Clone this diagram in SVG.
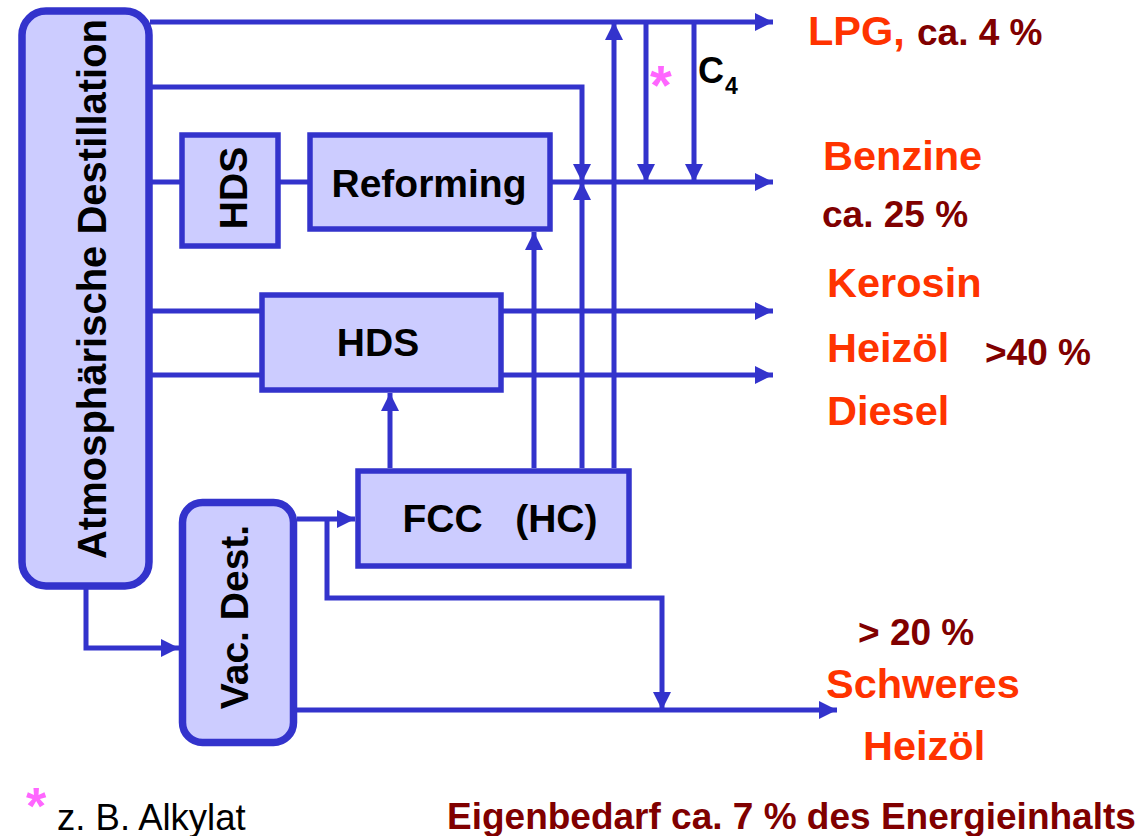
<svg xmlns="http://www.w3.org/2000/svg" width="1142" height="836" viewBox="0 0 1142 836">
<style>
.box{fill:#CCCCFF;stroke:#3333CC;stroke-width:5.5}
.rbox{fill:#CCCCFF;stroke:#3333CC;stroke-width:7.5}
.ln{fill:none;stroke:#3333CC;stroke-width:5}
.lbl{font-family:"Liberation Sans",Arial,sans-serif;font-weight:bold;font-size:39px;fill:#000}
.big{font-family:"Liberation Sans",Arial,sans-serif;font-weight:bold;font-size:41.5px;fill:#FF3300}
.pct{font-family:"Liberation Sans",Arial,sans-serif;font-weight:bold;font-size:37px;fill:#800000}
.star{font-family:"Liberation Sans",Arial,sans-serif;font-weight:bold;font-size:56px;fill:#FF66FF}
</style>
<defs>
<marker id="ah" markerUnits="userSpaceOnUse" markerWidth="18" markerHeight="18" refX="18" refY="9" orient="auto">
<path d="M0,0 L18,9 L0,18 z" fill="#3333CC"/>
</marker>
</defs>
<rect width="1142" height="836" fill="#fff"/>
<g id="connectors">
<path class="ln" d="M150,22 H773" marker-end="url(#ah)"/>
<path class="ln" d="M150,87 H582 V182" marker-end="url(#ah)"/>
<path class="ln" d="M150,182 H182"/>
<path class="ln" d="M278,182 H310"/>
<path class="ln" d="M550,182 H773" marker-end="url(#ah)"/>
<path class="ln" d="M150,311 H262"/>
<path class="ln" d="M501,311 H773" marker-end="url(#ah)"/>
<path class="ln" d="M150,375 H262"/>
<path class="ln" d="M501,375 H773" marker-end="url(#ah)"/>
<path class="ln" d="M390,468 V393" marker-end="url(#ah)"/>
<path class="ln" d="M534,468 V232" marker-end="url(#ah)"/>
<path class="ln" d="M582,468 V182" marker-end="url(#ah)"/>
<path class="ln" d="M614,468 V22" marker-end="url(#ah)"/>
<path class="ln" d="M646,22 V182" marker-end="url(#ah)"/>
<path class="ln" d="M694,22 V182" marker-end="url(#ah)"/>
<path class="ln" d="M86,586 V648 H179" marker-end="url(#ah)"/>
<path class="ln" d="M297,519 H355" marker-end="url(#ah)"/>
<path class="ln" d="M327,519 V598 H662 V710" marker-end="url(#ah)"/>
<path class="ln" d="M297,710 H837" marker-end="url(#ah)"/>
</g>
<g id="atm">
<rect class="rbox" x="22" y="11" width="127" height="575" rx="24"/>
<text class="lbl" transform="translate(106,289) rotate(-90)" text-anchor="middle" style="font-size:40px">Atmosphärische Destillation</text>
</g>
<g id="hds1">
<rect class="box" x="182" y="135" width="96" height="111"/>
<text class="lbl" transform="translate(247,188) rotate(-90)" text-anchor="middle">HDS</text>
</g>
<g id="reforming">
<rect class="box" x="310" y="135" width="240" height="94"/>
<text class="lbl" x="429" y="197" text-anchor="middle">Reforming</text>
</g>
<g id="hds2">
<rect class="box" x="262" y="295" width="239" height="95"/>
<text class="lbl" x="378" y="356" text-anchor="middle">HDS</text>
</g>
<g id="fcc">
<rect class="box" x="358" y="471" width="271" height="95"/>
<text class="lbl" x="500" y="532" text-anchor="middle" xml:space="preserve">FCC   (HC)</text>
</g>
<g id="vac">
<rect class="rbox" x="182.5" y="502.5" width="111" height="240" rx="20"/>
<text class="lbl" transform="translate(248,617) rotate(-90)" text-anchor="middle">Vac. Dest.</text>
</g>
<g id="labels">
<text class="star" x="650" y="104">*</text>
<text class="lbl" x="698" y="83" style="font-size:36px">C</text>
<text class="lbl" x="725" y="94" style="font-size:23px">4</text>
<text class="big" x="808" y="45">LPG,</text>
<text class="pct" x="917" y="45">ca. 4 %</text>
<text class="big" x="823" y="170">Benzine</text>
<text class="pct" x="822" y="227">ca. 25 %</text>
<text class="big" x="827" y="297">Kerosin</text>
<text class="big" x="827" y="362">Heizöl</text>
<text class="pct" x="985" y="365">&gt;40 %</text>
<text class="big" x="827" y="425">Diesel</text>
<text class="pct" x="858" y="645">&gt; 20 %</text>
<text class="big" x="826" y="698">Schweres</text>
<text class="big" x="863" y="760">Heizöl</text>
<text class="pct" x="447" y="829">Eigenbedarf ca. 7 % des Energieinhalts</text>
<text class="star" x="26" y="824" style="font-size:52px">*</text>
<text x="57" y="830" style="font-family:'Liberation Sans',Arial,sans-serif;font-size:36.5px;fill:#000">z. B. Alkylat</text>
</g>
</svg>
